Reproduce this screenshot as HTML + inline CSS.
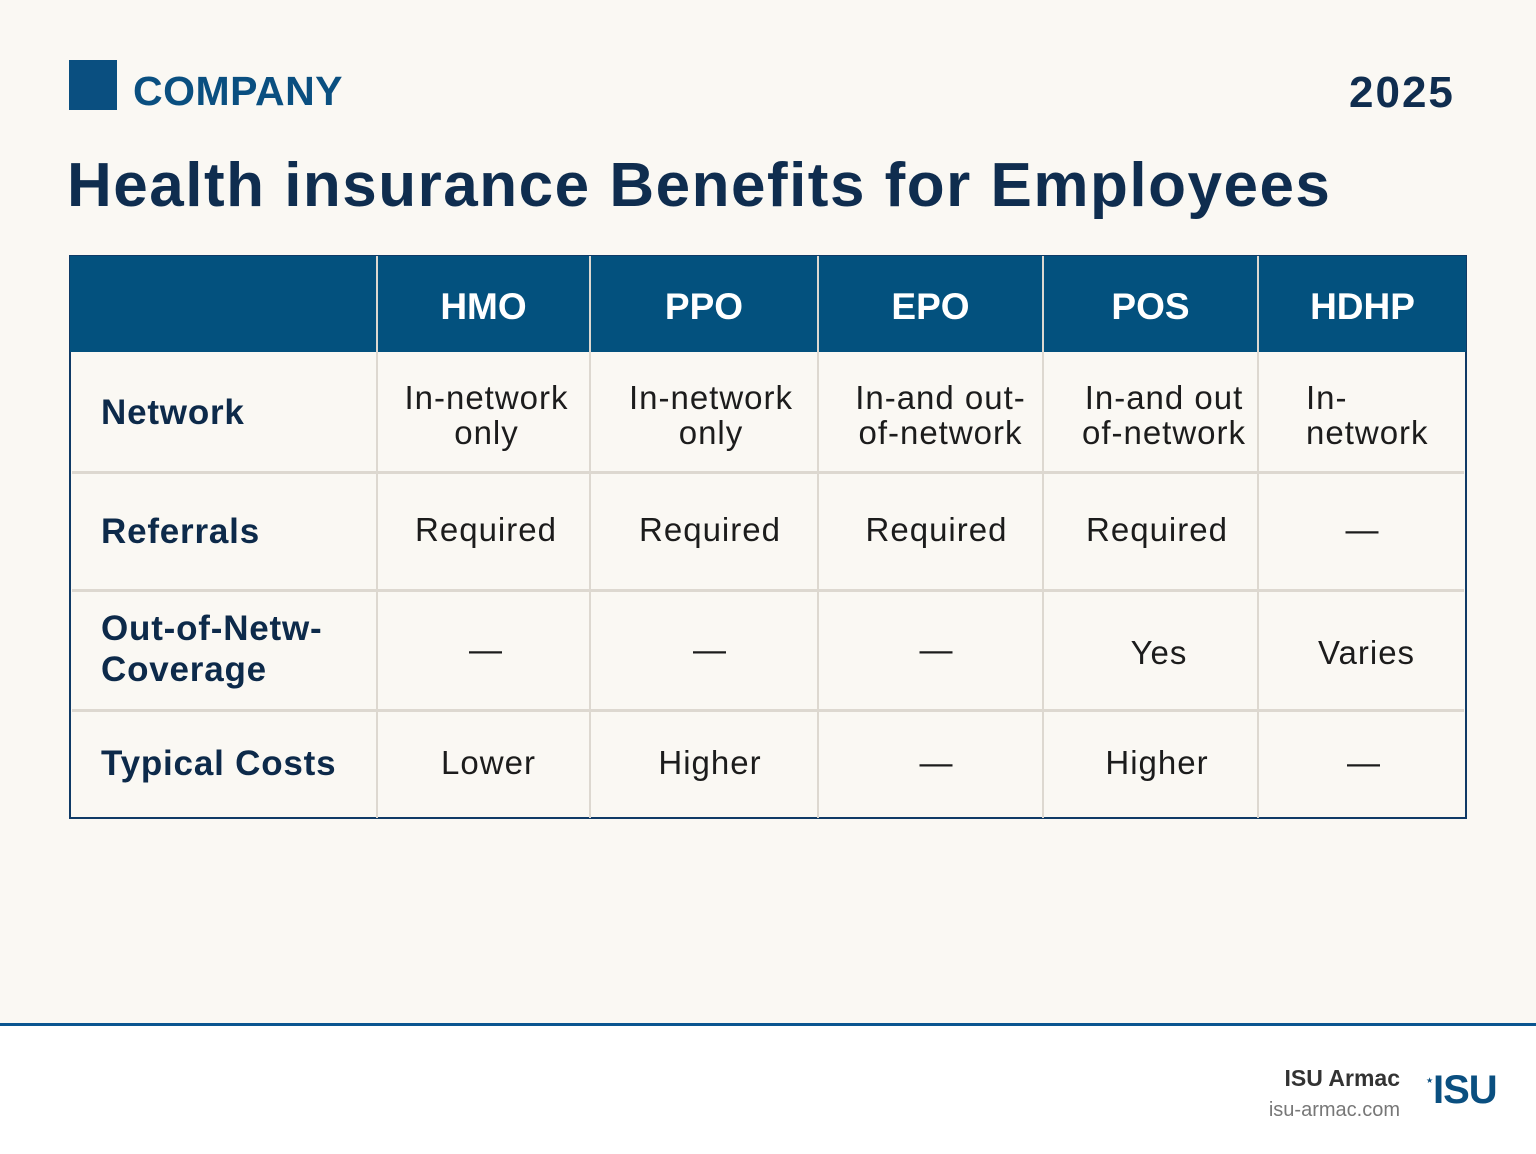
<!DOCTYPE html>
<html><head><meta charset="utf-8"><style>
*{margin:0;padding:0;box-sizing:border-box}
body{width:1536px;height:1154px;background:#faf8f3;position:relative;overflow:hidden;font-family:"Liberation Sans",sans-serif}
.a{position:absolute}
.h{color:#fff;font-weight:bold;font-size:37px;text-align:center;line-height:1}
.l{color:#0d2a4a;font-weight:bold;font-size:35px;line-height:40px;letter-spacing:0.8px}
.c{color:#1c1c1c;font-size:33px;text-align:center;line-height:35px;letter-spacing:1px}
.v{position:absolute;top:256px;height:562px;width:2px;background:#ddd8d0}
.r{position:absolute;left:72px;width:1392px;height:3px;background:#ddd8d0}
</style></head><body>
<div class="a" style="left:69px;top:60px;width:48px;height:50px;background:#0a4f80"></div>
<div class="a" style="left:133px;top:68px;font-size:41px;font-weight:bold;color:#0a4f80;letter-spacing:0.5px">COMPANY</div>
<div class="a" style="left:1349px;top:68px;font-size:44px;font-weight:bold;color:#0f2d4f;letter-spacing:2px">2025</div>
<div class="a" style="left:67px;top:150px;font-size:62px;font-weight:bold;color:#0f2d4f;letter-spacing:1.5px">Health insurance Benefits for Employees</div>

<div class="a" style="left:69px;top:255px;width:1398px;height:564px;border:2px solid #0f3a66;background:#faf8f3"></div>
<div class="a" style="left:70px;top:256px;width:1396px;height:96px;background:#03517e"></div>
<div class="r" style="top:471px"></div><div class="r" style="top:589px"></div><div class="r" style="top:709px"></div>
<div class="v" style="left:376px"></div><div class="v" style="left:589px"></div><div class="v" style="left:817px"></div><div class="v" style="left:1042px"></div><div class="v" style="left:1257px"></div>

<div class="a h" style="left:378px;width:211px;top:288px">HMO</div>
<div class="a h" style="left:591px;width:226px;top:288px">PPO</div>
<div class="a h" style="left:819px;width:223px;top:288px">EPO</div>
<div class="a h" style="left:1044px;width:213px;top:288px">POS</div>
<div class="a h" style="left:1259px;width:207px;top:288px">HDHP</div>

<div class="a l" style="left:101px;top:393px">Network</div>
<div class="a l" style="left:101px;top:512px">Referrals</div>
<div class="a l" style="left:101px;top:608px;line-height:41px">Out-of-Netw-<br>Coverage</div>
<div class="a l" style="left:101px;top:744px">Typical Costs</div>

<div class="a c" style="left:378px;width:217px;top:380px">In-network<br>only</div>
<div class="a c" style="left:591px;width:240px;top:380px">In-network<br>only</div>
<div class="a c" style="left:819px;width:243px;top:380px">In-and out-<br>of-network</div>
<div class="a c" style="left:1044px;width:240px;top:380px">In-and out<br>of-network</div>
<div class="a c" style="left:1306px;top:380px;text-align:left">In-<br>network</div>

<div class="a c" style="left:378px;width:216px;top:512px">Required</div>
<div class="a c" style="left:591px;width:238px;top:512px">Required</div>
<div class="a c" style="left:819px;width:235px;top:512px">Required</div>
<div class="a c" style="left:1044px;width:226px;top:512px">Required</div>
<div class="a c" style="left:1259px;width:207px;top:512px">—</div>

<div class="a c" style="left:378px;width:216px;top:632px">—</div>
<div class="a c" style="left:591px;width:238px;top:632px">—</div>
<div class="a c" style="left:819px;width:235px;top:632px">—</div>
<div class="a c" style="left:1044px;width:230px;top:635px">Yes</div>
<div class="a c" style="left:1259px;width:215px;top:635px">Varies</div>

<div class="a c" style="left:378px;width:221px;top:745px">Lower</div>
<div class="a c" style="left:591px;width:238px;top:745px">Higher</div>
<div class="a c" style="left:819px;width:235px;top:745px">—</div>
<div class="a c" style="left:1044px;width:226px;top:745px">Higher</div>
<div class="a c" style="left:1259px;width:210px;top:745px">—</div>

<div class="a" style="left:0;top:1026px;width:1536px;height:128px;background:#fff"></div>
<div class="a" style="left:0;top:1023px;width:1536px;height:3px;background:#0a5590"></div>
<div class="a" style="left:1250px;width:150px;text-align:right;top:1065px;font-size:23px;font-weight:bold;color:#333">ISU Armac</div>
<div class="a" style="left:1250px;width:150px;text-align:right;top:1099px;font-size:20px;color:#777">isu-armac.com</div>
<div class="a" style="left:1426px;top:1076px;font-size:8px;color:#0a4f80">★</div>
<div class="a" style="left:1433px;top:1070px;font-size:40px;font-weight:bold;color:#0a4f80;letter-spacing:-1px;line-height:40px">ISU</div>
</body></html>
